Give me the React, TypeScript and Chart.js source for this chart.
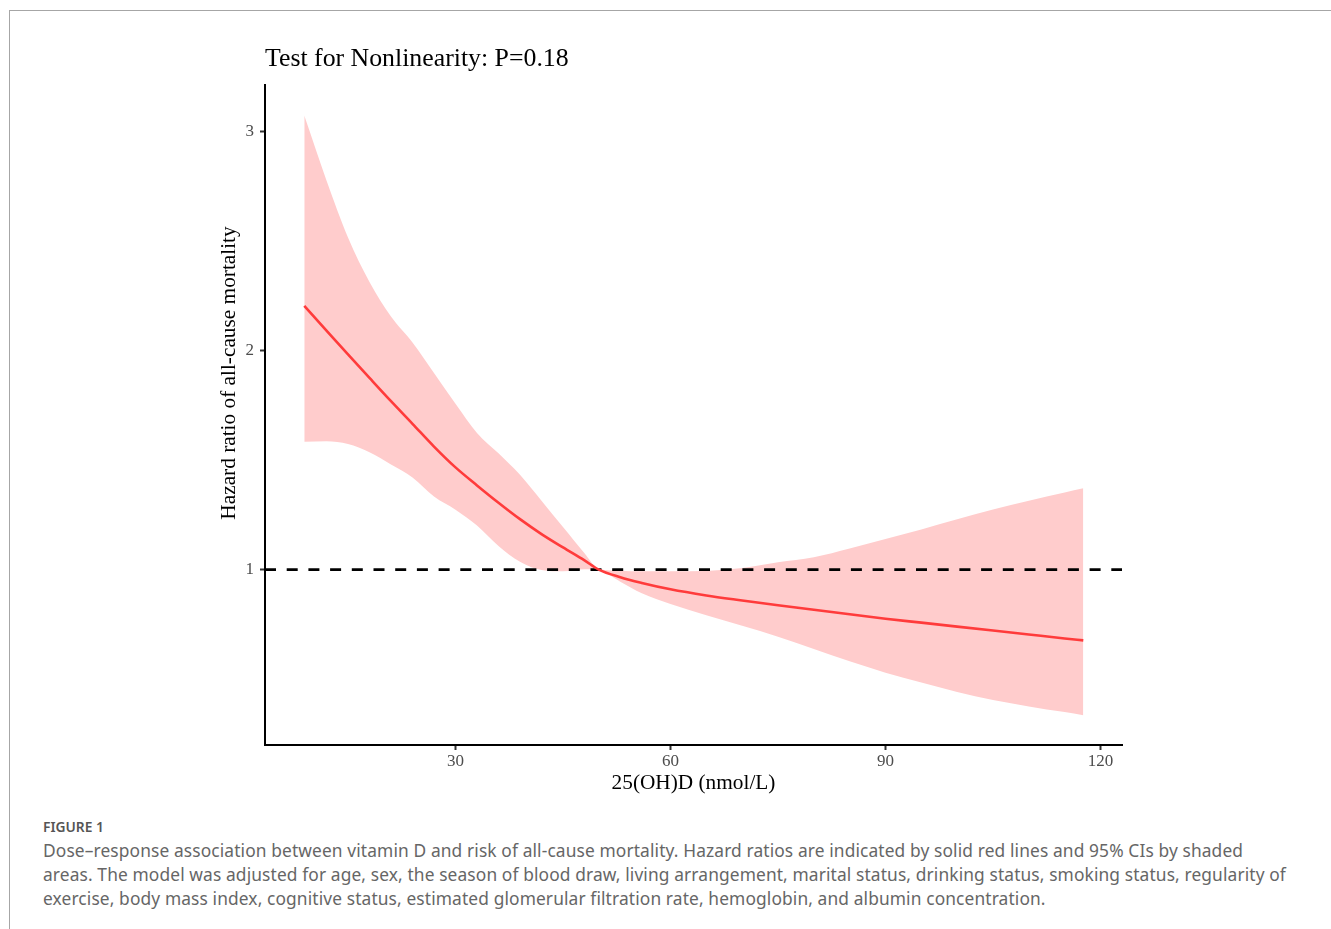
import React, { useEffect, useRef } from "react";
import { Chart, registerables } from "chart.js";

Chart.register(...registerables);

// ---- data ----
const X_VALUES = [8.9, 12, 15, 18, 21, 24, 27, 30, 33, 36, 39, 42, 45, 48, 50, 53, 56, 60, 65, 70, 75, 80, 85, 90, 95, 100, 105, 110, 115, 117.6];
const HR = [2.203, 2.09, 1.981, 1.874, 1.768, 1.665, 1.561, 1.466, 1.384, 1.305, 1.23, 1.162, 1.101, 1.042, 1.0, 0.965, 0.939, 0.91, 0.882, 0.859, 0.837, 0.817, 0.796, 0.776, 0.758, 0.74, 0.722, 0.704, 0.686, 0.677];
const CI_UPPER = [3.071, 2.775, 2.515, 2.312, 2.154, 2.036, 1.897, 1.756, 1.623, 1.53, 1.432, 1.314, 1.194, 1.075, 1.003, 0.995, 0.992, 0.992, 0.994, 1.007, 1.033, 1.056, 1.096, 1.139, 1.183, 1.229, 1.274, 1.314, 1.352, 1.371];
const CI_LOWER = [1.583, 1.585, 1.573, 1.535, 1.479, 1.42, 1.333, 1.273, 1.201, 1.108, 1.036, 0.998, 0.992, 1.001, 0.997, 0.945, 0.892, 0.843, 0.792, 0.744, 0.694, 0.638, 0.582, 0.53, 0.485, 0.442, 0.405, 0.376, 0.35, 0.336];
const REFERENCE_HR = 1;

const X_TICKS = [30, 60, 90, 120];
const Y_TICKS = [1, 2, 3];
const X_MIN = 3.42;
const X_MAX = 123.0;
const Y_MIN = 0.2;
const Y_MAX = 3.21;

const TITLE = "Test for Nonlinearity: P=0.18";
const X_TITLE = "25(OH)D (nmol/L)";
const Y_TITLE = "Hazard ratio of all-cause mortality";

const CAPTION_LABEL = "FIGURE 1";
const CAPTION_LINES = [
  "Dose\u2013response association between vitamin D and risk of all-cause mortality. Hazard ratios are indicated by solid red lines and 95% CIs by shaded",
  "areas. The model was adjusted for age, sex, the season of blood draw, living arrangement, marital status, drinking status, smoking status, regularity of",
  "exercise, body mass index, cognitive status, estimated glomerular filtration rate, hemoglobin, and albumin concentration.",
];

const SERIF = "'Liberation Serif', 'Times New Roman', 'DejaVu Serif', serif";
const SANS = "'Noto Sans', 'Open Sans', sans-serif";

const yTitlePlugin = {
  id: "yAxisTitleOffset",
  afterDraw(chart: any) {
    const { ctx, chartArea } = chart;
    ctx.save();
    ctx.translate(chartArea.left - 36, (chartArea.top + chartArea.bottom) / 2 - 42);
    ctx.rotate(-Math.PI / 2);
    ctx.font = `21.3px ${SERIF}`;
    ctx.fillStyle = "#000000";
    ctx.textAlign = "center";
    ctx.textBaseline = "middle";
    ctx.fillText(Y_TITLE, 0, 0);
    ctx.restore();
  },
};

export default function App() {
  const canvasRef = useRef<HTMLCanvasElement | null>(null);

  useEffect(() => {
    if (!canvasRef.current) return;
    const toPoints = (ys: number[]) => X_VALUES.map((x, i) => ({ x, y: ys[i] }));
    const chart = new Chart(canvasRef.current, {
      type: "line",
      data: {
        datasets: [
          {
            label: "Hazard ratio",
            data: toPoints(HR),
            borderColor: "#FF3B3B",
            borderWidth: 2.6,
            pointRadius: 0,
            fill: false,
            cubicInterpolationMode: "monotone",
          },
          {
            label: "Reference",
            data: [
              { x: X_MIN, y: REFERENCE_HR },
              { x: X_MAX, y: REFERENCE_HR },
            ],
            borderColor: "#000000",
            borderWidth: 2.6,
            borderDash: [11, 10.7],
            borderCapStyle: "butt",
            pointRadius: 0,
            fill: false,
          },
          {
            label: "95% CI upper",
            data: toPoints(CI_UPPER),
            borderColor: "rgba(0,0,0,0)",
            borderWidth: 0,
            backgroundColor: "#FFCCCC",
            pointRadius: 0,
            fill: "+1",
            cubicInterpolationMode: "monotone",
          },
          {
            label: "95% CI lower",
            data: toPoints(CI_LOWER),
            borderColor: "rgba(0,0,0,0)",
            borderWidth: 0,
            backgroundColor: "#FFCCCC",
            pointRadius: 0,
            fill: false,
            cubicInterpolationMode: "monotone",
          },
        ],
      },
      options: {
        animation: false,
        responsive: true,
        maintainAspectRatio: false,
        layout: { padding: { left: 217, right: 209, top: 0, bottom: 4 } },
        plugins: {
          legend: { display: false },
          tooltip: { enabled: false },
          title: {
            display: true,
            text: TITLE,
            align: "start",
            fullSize: false,
            color: "#000000",
            font: { family: SERIF, size: 25.8, weight: "normal", lineHeight: 1.2 },
            padding: { top: 44.2, bottom: 9.84 },
          },
        },
        scales: {
          x: {
            type: "linear",
            min: X_MIN,
            max: X_MAX,
            afterBuildTicks: (s: any) => {
              s.ticks = X_TICKS.map((v) => ({ value: v }));
            },
            afterFit: (s: any) => {
              s.height = 51;
            },
            grid: { drawOnChartArea: false, drawTicks: true, tickLength: 5, tickColor: "#333333", tickWidth: 2 },
            border: { display: true, color: "#000000", width: 2 },
            ticks: { color: "#4D4D4D", font: { family: SERIF, size: 17 }, padding: 1, maxRotation: 0, autoSkip: false },
            title: { display: true, text: X_TITLE, color: "#000000", font: { family: SERIF, size: 21.3 }, padding: { top: 0, bottom: 0 } },
          },
          y: {
            type: "linear",
            min: Y_MIN,
            max: Y_MAX,
            afterBuildTicks: (s: any) => {
              s.ticks = Y_TICKS.map((v) => ({ value: v }));
            },
            afterFit: (s: any) => {
              s.width = 48;
            },
            grid: { drawOnChartArea: false, drawTicks: true, tickLength: 5, tickColor: "#333333", tickWidth: 2 },
            border: { display: true, color: "#000000", width: 2 },
            ticks: { color: "#4D4D4D", font: { family: SERIF, size: 17 }, padding: 6, autoSkip: false },
            title: { display: false },
          },
        },
      } as any,
      plugins: [yTitlePlugin],
    });
    return () => chart.destroy();
  }, []);

  return (
    <div style={{ position: "fixed", left: 0, top: 0, width: 1331, height: 929, overflow: "hidden", background: "#ffffff" }}>
      <div
        style={{
          position: "absolute",
          left: 9,
          top: 10,
          width: 2000,
          height: 2000,
          borderTop: "1px solid #a6a6a6",
          borderLeft: "1px solid #a6a6a6",
        }}
      />
      <div style={{ position: "absolute", left: 0, top: 0, width: 1331, height: 800 }}>
        <canvas ref={canvasRef} />
      </div>
      <div
        style={{
          position: "absolute",
          left: 43,
          top: 819,
          fontFamily: SANS,
          fontSize: 13.8,
          lineHeight: "16px",
          fontWeight: 600,
          color: "#555555",
          whiteSpace: "nowrap",
        }}
      >
        {CAPTION_LABEL}
      </div>
      {CAPTION_LINES.map((line, i) => (
        <div
          key={i}
          style={{
            position: "absolute",
            left: 43,
            top: 838 + i * 24,
            fontFamily: SANS,
            fontSize: 17.35,
            letterSpacing: "0.12px",
            lineHeight: "24px",
            color: "#666666",
            whiteSpace: "nowrap",
          }}
        >
          {line}
        </div>
      ))}
    </div>
  );
}
